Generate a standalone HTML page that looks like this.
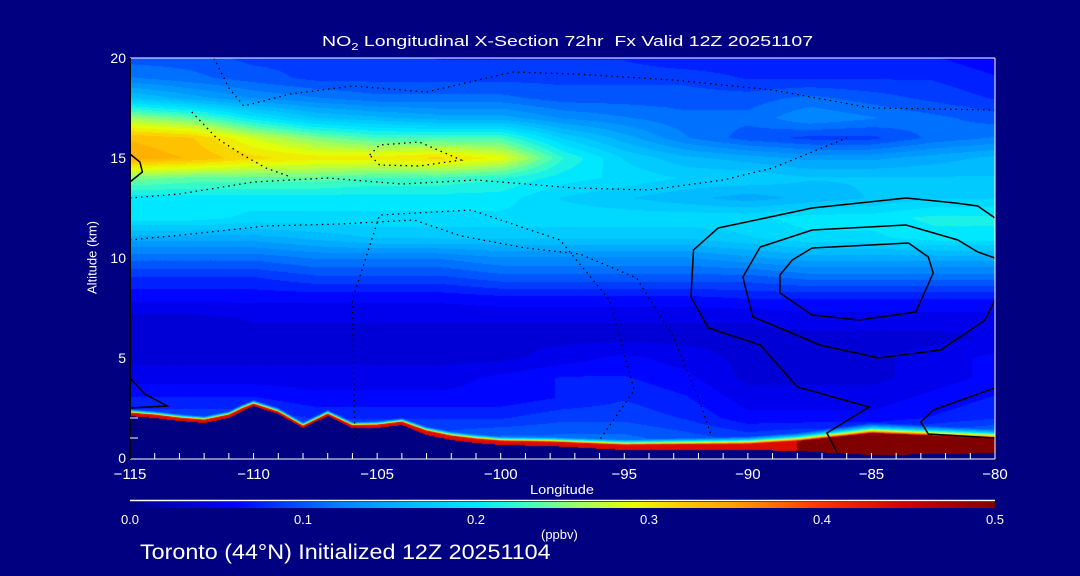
<!DOCTYPE html>
<html><head><meta charset="utf-8">
<style>
html,body{margin:0;padding:0;background:#000080;}
#wrap{position:relative;width:1080px;height:576px;background:#000080;overflow:hidden;font-family:"Liberation Sans",sans-serif;color:#fff;}
canvas{position:absolute;}
.t{position:absolute;color:#fff;white-space:nowrap;font-size:13px;transform-origin:left center;}
</style></head><body>
<div id="wrap">
<div class="t" style="left:322px;top:33px;font-size:15px;transform:scaleX(1.3);">NO<sub style="font-size:10px">2</sub> Longitudinal X-Section 72hr&nbsp;&nbsp;Fx Valid 12Z 20251107</div>
<canvas id="field" width="865" height="400" style="left:130px;top:58px;"></canvas>
<svg id="ov" width="1080" height="576" style="position:absolute;left:0;top:0;"></svg>
<canvas id="cbar" width="865" height="6" style="left:130px;top:502px;"></canvas>
<div class="t" style="left:530px;top:482px;font-size:13px;transform:scaleX(1.12);">Longitude</div>
<div class="t" style="left:47px;top:250px;font-size:13px;transform:rotate(-90deg);transform-origin:center;width:90px;text-align:center;">Altitude (km)</div>
<div class="t" style="left:541px;top:527px;font-size:13px;">(ppbv)</div>
<div class="t" style="left:140px;top:541px;font-size:21px;transform:scaleX(1.11);">Toronto (44°N) Initialized 12Z 20251104</div>
</div>
<script>
// ---- data ----
const lonGrid=[-115,-112.5,-110,-107.5,-105,-102.5,-100,-97.5,-95,-92.5,-90,-87.5,-85,-82.5,-80];
const altGrid=[0,1,2,3,4,5,6,7,8,9,10,11,12,13,14,15,16,17,18,19,20];
const row0=[.10,.10,.10,.10,.10,.10,.11,.11,.11,.10,.09,.10,.10,.11,.12];
const row1=[.10,.10,.10,.10,.10,.10,.11,.11,.11,.10,.09,.10,.10,.11,.12];
const row2=[.09,.09,.09,.08,.08,.08,.08,.09,.09,.08,.06,.06,.06,.07,.08];
const row3=[.07,.07,.07,.06,.06,.06,.06,.07,.08,.07,.05,.05,.05,.06,.07];
const row4=[.05,.05,.05,.05,.05,.05,.06,.07,.07,.06,.04,.04,.04,.05,.06];
const row5=[.04,.04,.04,.04,.04,.04,.04,.05,.06,.05,.04,.04,.04,.05,.06];
const row6=[.035,.035,.04,.04,.04,.04,.04,.04,.04,.04,.04,.04,.04,.04,.045];
const row7=[.04,.04,.045,.045,.045,.045,.045,.045,.045,.045,.045,.05,.05,.05,.05];
const row8=[.06,.06,.06,.06,.06,.06,.065,.065,.065,.065,.07,.07,.07,.07,.07];
const row9=[.08,.08,.08,.09,.09,.09,.10,.10,.10,.10,.10,.11,.11,.11,.11];
const row10=[.11,.11,.11,.12,.12,.12,.13,.13,.13,.13,.14,.15,.15,.15,.15];
const row11=[.15,.15,.15,.16,.17,.17,.17,.17,.17,.17,.18,.19,.19,.20,.20];
const row12=[.20,.20,.19,.19,.19,.19,.19,.19,.19,.19,.19,.20,.20,.21,.21];
const row13=[.20,.20,.20,.20,.20,.20,.20,.18,.17,.16,.15,.16,.17,.18,.18];
const row14=[.25,.24,.24,.24,.23,.23,.22,.20,.19,.18,.18,.17,.17,.17,.17];
const row15=[.34,.33,.31,.30,.30,.31,.29,.22,.18,.16,.15,.14,.14,.15,.16];
const row16=[.33,.32,.28,.25,.23,.23,.23,.18,.15,.12,.10,.09,.09,.11,.12];
const row17=[.26,.24,.20,.17,.16,.15,.15,.13,.12,.11,.11,.13,.12,.11,.10];
const row18=[.17,.15,.13,.12,.11,.11,.11,.10,.10,.10,.10,.11,.10,.09,.08];
const row19=[.12,.11,.10,.09,.09,.09,.09,.09,.09,.09,.08,.08,.08,.08,.07];
const row20=[.10,.10,.09,.09,.09,.08,.08,.08,.08,.07,.07,.07,.07,.07,.06];
const field=[row0,row1,row2,row3,row4,row5,row6,row7,row8,row9,row10,row11,row12,row13,row14,row15,row16,row17,row18,row19,row20];
const terrLon=[-115,-114,-113,-112,-111,-110.5,-110,-109,-108,-107,-106,-105,-104,-103,-102,-101,-100,-98,-95,-92,-90,-88,-85,-82,-80];
const terrAlt=[2.1,2.0,1.85,1.75,2.0,2.3,2.6,2.2,1.5,2.1,1.5,1.5,1.65,1.15,0.9,0.75,0.65,0.6,0.4,0.4,0.4,0.35,0.15,0.2,0.25];
const blDepth=[0.15,0.15,0.15,0.15,0.15,0.15,0.1,0.1,0.1,0.1,0.12,0.15,0.15,0.2,0.2,0.2,0.2,0.2,0.25,0.28,0.3,0.5,1.1,0.9,0.75];
const blScale=[0.12,0.12,0.12,0.12,0.12,0.12,0.12,0.12,0.12,0.12,0.12,0.12,0.12,0.14,0.15,0.16,0.16,0.18,0.2,0.22,0.24,0.26,0.3,0.3,0.3];
const xTicks=[-115,-110,-105,-100,-95,-90,-85,-80];
const yTicks=[0,5,10,15,20];
const cbTicks=[0.0,0.1,0.2,0.3,0.4,0.5];
const contourPos0=[[-80,12.0],[-80.7,12.6],[-81.6,12.75],[-83.6,13.0],[-85.5,12.75],[-87.4,12.5],[-91.2,11.5],[-92.2,10.4],[-92.3,8.05],[-91.6,6.5],[-89.5,5.65],[-88.0,3.55],[-85.1,2.55],[-86.8,1.25],[-86.4,0.3]];
const contourPos10=[[-80,7.9],[-80.4,6.9],[-82.2,5.4],[-84.7,5.0],[-87.1,5.65],[-88.7,6.5],[-89.8,7.05],[-90.2,9.05],[-89.5,10.55],[-87.4,11.4],[-83.6,11.65],[-81.5,10.9],[-80.7,10.3],[-80,10.0]];
const contourPos20=[[-83.5,10.75],[-82.7,10.05],[-82.5,9.25],[-83.2,7.3],[-85.5,6.9],[-87.4,7.15],[-88.7,8.25],[-88.7,9.15],[-88.2,9.9],[-87.4,10.5],[-83.5,10.75]];
const contourWest0=[[-115,15.2],[-114.6,14.8],[-114.5,14.3],[-115,13.8]];
const contourWestSfc=[[-115,4.0],[-114.4,3.2],[-113.5,2.6],[-115,2.5]];
const contourSE=[[-80,3.5],[-82.5,2.4],[-83.0,1.8],[-82.7,1.2],[-80,1.0]];
const contourNeg20=[[-105.9,0.9],[-106.0,7.9],[-104.9,12.15],[-101.2,12.4],[-97.6,10.9],[-95.6,7.9],[-94.6,3.4],[-96.0,0.9]];
const contourNeg10=[[-115,10.9],[-112.5,11.2],[-109.5,11.6],[-106.5,11.7],[-103.5,11.9],[-101.6,11.1],[-99.0,10.5],[-96.8,10.2],[-94.5,9.0],[-93.0,6.0],[-92.0,3.0],[-91.5,1.2]];
const contourNegTop=[[-111.6,20],[-111.0,18.5],[-110.4,17.6],[-108.5,18.2],[-106.0,18.6],[-103.0,18.3],[-99.5,19.3],[-97.0,19.2],[-93.0,18.9],[-89.0,18.4],[-85.0,17.5],[-80,17.4]];
const contourNegMid=[[-115,13.0],[-113.0,13.2],[-110.0,13.8],[-107.0,14.0],[-104.0,13.7],[-101.0,13.9],[-97.0,13.5],[-94.0,13.4],[-91.0,13.9],[-89.0,14.5],[-86.0,16.0]];
const contourNegLoop=[[-105.3,15.15],[-104.9,15.65],[-103.3,15.8],[-101.6,14.9],[-103.3,14.6],[-104.9,14.65],[-105.3,15.15]];
const contourNegWest=[[-112.5,17.3],[-111.5,16.0],[-110.5,15.2],[-109.5,14.5],[-108.6,14.1]];

// ---- axes ----
const X0=130,X1=995,Y0=458,PXK=20;
const xS=lon=>X0+(lon+115)/35*(X1-X0);
const yS=alt=>Y0-alt*PXK;
const cmapV=[0,0.03,0.06,0.09,0.12,0.16,0.20,0.23,0.26,0.29,0.32,0.35,0.40,0.45,0.50];
const cmapC=[[0,0,130],[0,0,200],[0,0,255],[0,64,255],[0,128,255],[0,184,255],[0,232,255],[64,255,192],[160,255,96],[232,255,0],[255,200,0],[255,160,0],[255,48,0],[208,0,0],[128,0,0]];
function cmap(v){
  if(v<=cmapV[0])return cmapC[0];
  for(let i=1;i<cmapV.length;i++){if(v<=cmapV[i]){const t=(v-cmapV[i-1])/(cmapV[i]-cmapV[i-1]);const a=cmapC[i-1],b=cmapC[i];return[a[0]+(b[0]-a[0])*t,a[1]+(b[1]-a[1])*t,a[2]+(b[2]-a[2])*t];}}
  return cmapC[cmapC.length-1];
}
function interp1(xs,ys,x){if(x<=xs[0])return ys[0];for(let i=1;i<xs.length;i++){if(x<=xs[i]){const t=(x-xs[i-1])/(xs[i]-xs[i-1]);return ys[i-1]+(ys[i]-ys[i-1])*t;}}return ys[ys.length-1];}
function fieldAt(lon,alt){
  let fi=(lon+115)/2.5;fi=Math.max(0,Math.min(lonGrid.length-1.0001,fi));
  let fj=Math.max(0,Math.min(altGrid.length-1.0001,alt));
  const i=Math.floor(fi),j=Math.floor(fj),tx=fi-i,ty=fj-j;
  const a=field[j][i],b=field[j][i+1],c=field[j+1][i],d=field[j+1][i+1];
  return (a*(1-tx)+b*tx)*(1-ty)+(c*(1-tx)+d*tx)*ty;
}
// ---- draw field ----
(function(){
  const cv=document.getElementById('field'),ctx=cv.getContext('2d');
  const W=cv.width,H=cv.height,img=ctx.createImageData(W,H);
  for(let px=0;px<W;px++){
    const lon=-115+(px+0.5)/W*35;
    const terr=interp1(terrLon,terrAlt,lon),bl=interp1(terrLon,blDepth,lon),sc=interp1(terrLon,blScale,lon);
    for(let py=0;py<H;py++){
      const alt=20-(py+0.5)/PXK;
      let col;
      if(alt<terr){col=[0,0,128];}
      else{
        const d=alt-terr;let v=fieldAt(lon,alt);
        if(d<bl)v=lon>-88?0.5:0.44;
        else v=Math.max(v,0.44*Math.exp(-(d-bl)/sc));
        v=Math.round(v/0.0125)*0.0125;
        col=cmap(v);
      }
      const k=(py*W+px)*4;img.data[k]=col[0];img.data[k+1]=col[1];img.data[k+2]=col[2];img.data[k+3]=255;
    }
  }
  ctx.putImageData(img,0,0);
  const cb=document.getElementById('cbar'),c2=cb.getContext('2d');
  for(let px=0;px<cb.width;px++){const c=cmap(px/(cb.width-1)*0.5);c2.fillStyle='rgb('+c.map(Math.round).join(',')+')';c2.fillRect(px,0,1,6);}
})();
// ---- overlay ----
const NS='http://www.w3.org/2000/svg',ov=document.getElementById('ov');
function mk(tag,attrs){const e=document.createElementNS(NS,tag);for(const k in attrs)e.setAttribute(k,attrs[k]);ov.appendChild(e);return e;}
function line(pts,dashed,name){
  const e=mk('polyline',{points:pts.map(p=>xS(p[0]).toFixed(1)+','+yS(p[1]).toFixed(1)).join(' '),fill:'none',stroke:'#000','stroke-width':dashed?1.3:1.5,'stroke-dasharray':dashed?'1.5 4':'none'});
  
  
}
line(contourPos0,false,'contour-0');
line(contourPos10,false,'contour-10');
line(contourPos20,false,'contour-20');
line(contourWest0,false,'contour-west-0');
line(contourWestSfc,false,'contour-west-surface');
line(contourSE,false,'contour-southeast');
line(contourNeg20,true,'contour-neg20');
line(contourNeg10,true,'contour-neg10');
line(contourNegTop,true,'contour-neg-top');
line(contourNegMid,true,'contour-neg-mid');
line(contourNegLoop,true,'contour-neg-loop');
line(contourNegWest,true,'contour-neg-west');
// frame
let fr=mk('line',{x1:X0,y1:yS(20),x2:X1,y2:yS(20),stroke:'#fff','stroke-width':1});


fr=mk('line',{x1:X1,y1:yS(20),x2:X1,y2:Y0+1,stroke:'#fff','stroke-width':1});


fr=mk('line',{x1:X0,y1:Y0+1,x2:X1,y2:Y0+1,stroke:'#fff','stroke-width':1});


fr=mk('line',{x1:X0,y1:yS(20),x2:X0,y2:Y0+1,stroke:'#000','stroke-width':2});


for(let l=-114;l<-80;l++){
  const tk=mk('line',{x1:xS(l),y1:Y0+1,x2:xS(l),y2:Y0-5,stroke:'#fff','stroke-width':1});
  
  
}
for(let a=1;a<3;a++){
  const tk=mk('line',{x1:X0,y1:yS(a),x2:X0+8,y2:yS(a),stroke:'#fff','stroke-width':1});
  
  
}
xTicks.forEach(v=>{
  const t=mk('text',{x:xS(v),y:479,fill:'#fff','font-size':15,'text-anchor':'middle','font-family':'Liberation Sans, sans-serif'});
  t.textContent=(v<0?'\u2212'+(-v):v);
  
  
});
yTicks.forEach(v=>{
  const t=mk('text',{x:X0-4,y:yS(v)+5,fill:'#fff','font-size':14,'text-anchor':'end','font-family':'Liberation Sans, sans-serif'});
  t.textContent=v;
  
  
});
const cbl=mk('line',{x1:X0,y1:500.5,x2:X1,y2:500.5,stroke:'#fff','stroke-width':1.5});


cbTicks.forEach(v=>{
  const t=mk('text',{x:X0+v/0.5*(X1-X0),y:524,fill:'#fff','font-size':13,'text-anchor':'middle','font-family':'Liberation Sans, sans-serif'});
  t.textContent=v.toFixed(1);
  
  
});
</script>
</body></html>
